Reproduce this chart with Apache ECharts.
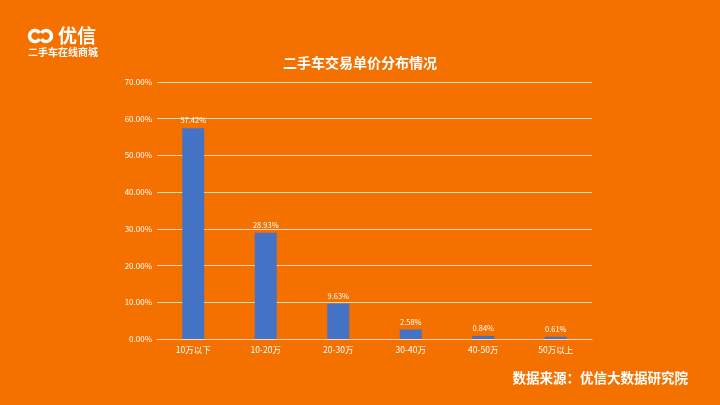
<!DOCTYPE html>
<html><head><meta charset="utf-8">
<script src="https://cdn.jsdelivr.net/npm/echarts@6/dist/echarts.min.js"></script>
<style>html,body{margin:0;padding:0;background:#F47100;}#c{width:720px;height:405px;}</style>
</head><body><div id="c"></div>
<script>
const categories = ['10万以下', '10-20万', '20-30万', '30-40万', '40-50万', '50万以上'];
const shares = [57.42, 28.93, 9.63, 2.58, 0.84, 0.61];
const titleText = '二手车交易单价分布情况';
const sourceText = '数据来源：优信大数据研究院';
const font = '"Noto Sans CJK SC", "Noto Sans", sans-serif';
const chart = echarts.init(document.getElementById('c'));
chart.setOption({
  backgroundColor: '#F47100',
  animation: false,
  title: {text: titleText, left: 'center', top: 51, textStyle: {color: '#fff', fontSize: 14, fontWeight: 'bold', fontFamily: font}},
  grid: {left: 157, right: 128, top: 82, bottom: 66},
  xAxis: {type: 'category', data: categories,
    axisLine: {lineStyle: {color: '#F8D9BF', width: 1}}, axisTick: {show: false},
    axisLabel: {color: '#fff', fontSize: 8.5, fontFamily: font, margin: 7}},
  yAxis: {type: 'value', min: 0, max: 70, interval: 10,
    axisLine: {show: false}, axisTick: {show: false},
    splitLine: {lineStyle: {color: '#F8D9BF', width: 1}},
    axisLabel: {color: '#fff', fontSize: 8, fontFamily: font, margin: 5, formatter: v => v.toFixed(2) + '%'}},
  series: [{type: 'bar', data: shares, barWidth: 22,
    itemStyle: {color: '#4472C4'},
    label: {show: true, position: 'top', color: '#fff', fontSize: 7.5, fontFamily: font, distance: 4, formatter: p => p.value.toFixed(2) + '%'}}],
  graphic: [
    {type: 'arc', shape: {cx: 35, cy: 36, r: 5.5, startAngle: 0.6, endAngle: 5.7}, style: {fill: 'none', stroke: '#fff', lineWidth: 3.5}},
    {type: 'arc', shape: {cx: 46, cy: 36, r: 5.5, startAngle: 3.74, endAngle: 2.54}, style: {fill: 'none', stroke: '#fff', lineWidth: 3.5}},
    {type: 'text', left: 58, top: 26, style: {text: '优信', fill: '#fff', font: 'bold 19px ' + font}},
    {type: 'text', left: 28, top: 47, style: {text: '二手车在线商城', fill: '#fff', font: 'bold 10px ' + font}},
    {type: 'text', right: 32, top: 371, style: {text: sourceText, fill: '#fff', font: 'bold 13.5px ' + font}}
  ]
});
</script></body></html>
